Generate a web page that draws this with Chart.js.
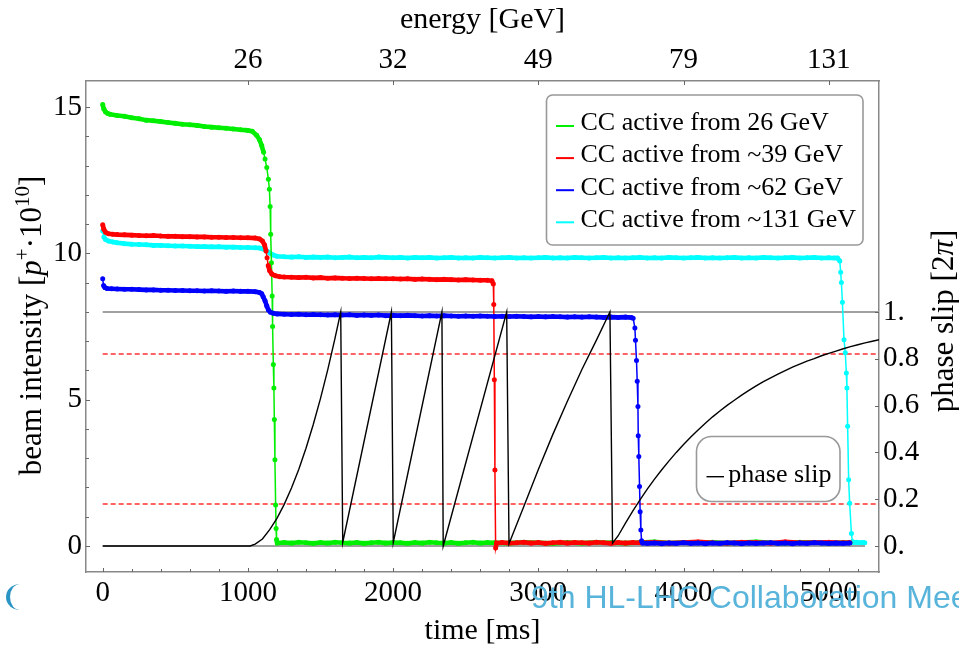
<!DOCTYPE html>
<html>
<head>
<meta charset="utf-8">
<script src="https://cdn.jsdelivr.net/npm/chart.js@4"></script>
<style>
  body { margin: 0; background: #fff; overflow: hidden; }
  #wrap { position: relative; width: 959px; height: 646px; overflow: hidden; }
  #banner { position: absolute; left: 531px; top: 581px; font: 32px "Liberation Sans", Arial, sans-serif; line-height: 1; color: #58b4da; white-space: nowrap; }
  #logo { position: absolute; left: 6px; top: 584px; width: 24px; height: 26px; border-left: 4px solid #2a95c5; border-radius: 50%; }
</style>
</head>
<body>
<div id="wrap">
  <canvas id="myChart" width="959" height="646"></canvas>
  <div id="logo"></div>
  <div id="banner">9th HL-LHC Collaboration Meeting</div>
</div>
<script>
// axis ticks
const timeTicks = [0, 1000, 2000, 3000, 4000, 5000];
const timeMinorTicks = [200, 400, 600, 800, 1200, 1400, 1600, 1800, 2200, 2400, 2600, 2800, 3200, 3400, 3600, 3800, 4200, 4400, 4600, 4800, 5200];
const energyTicks = [1000, 2000, 3000, 4000, 5000];
const energyLabels = ["26", "32", "49", "79", "131"];
const beamTicks = [0, 5, 10, 15];
const beamMinorTicks = [1, 2, 3, 4, 6, 7, 8, 9, 11, 12, 13, 14];
const phaseTicks = [0, 0.2, 0.4, 0.6, 0.8, 1];
const phaseLabels = ["0.", "0.2", "0.4", "0.6", "0.8", "1."];

const seriesLabels = ["CC active from 26 GeV", "CC active from ~39 GeV", "CC active from ~62 GeV", "CC active from ~131 GeV"];

// beam intensity [time ms, 1e10 p]
const green26 = [[0,15.08],[8,14.93],[20,14.83],[35,14.78],[50,14.75],[100,14.71],[150,14.68],[200,14.63],[250,14.6],[300,14.55],[350,14.53],[400,14.5],[450,14.47],[500,14.44],[550,14.41],[600,14.39],[650,14.37],[700,14.33],[750,14.31],[800,14.29],[850,14.27],[900,14.25],[950,14.22],[1000,14.2],[1030,14.17],[1060,14.03],[1080,13.88],[1095,13.68],[1108,13.45],[1118,13.22],[1130,12.93],[1141,12.53],[1148,12.19],[1153,11.6],[1157,10.65],[1162,9.68],[1167,8.54],[1170,7.5],[1175,6.2],[1179,5.4],[1182,4.32],[1186,2.95],[1191,1.4],[1194,0.6],[1197,0.22],[1202,0.1],
  [1250,0.12],[1300,0.1],[1350,0.13],[1400,0.11],[1450,0.09],[1500,0.12],[1550,0.1],[1600,0.13],[1650,0.11],[1700,0.1],[1750,0.12],[1800,0.09],[1850,0.11],[1900,0.13],[1950,0.1],[2000,0.12],[2050,0.11],[2100,0.09],[2150,0.12],[2200,0.1],[2250,0.13],[2300,0.11],[2350,0.1],[2400,0.12],[2450,0.09],[2500,0.11],[2550,0.13],[2600,0.1],[2650,0.12],[2700,0.11],
  [2800,0.1],[2900,0.13],[3000,0.11],[3100,0.09],[3200,0.12],[3300,0.1],[3400,0.13],[3500,0.11],[3600,0.1],[3700,0.12],[3800,0.14],[3900,0.1],[4000,0.12],[4100,0.11],[4200,0.13],[4300,0.1],[4400,0.12],[4500,0.14],[4600,0.11],[4700,0.1],[4800,0.13],[4900,0.12],[5000,0.1],[5100,0.12],[5145,0.11]];

const red39 = [[0,10.98],[8,10.82],[20,10.72],[40,10.67],[70,10.65],[100,10.64],[150,10.63],[200,10.62],[250,10.61],[300,10.6],[350,10.61],[400,10.59],[450,10.58],[500,10.58],[550,10.57],[600,10.57],[650,10.56],[700,10.56],[750,10.55],[800,10.55],[850,10.54],[900,10.54],[950,10.53],[1000,10.53],[1050,10.52],[1080,10.49],[1100,10.42],[1115,10.28],[1125,10.08],[1132,9.85],[1140,9.58],[1150,9.4],[1165,9.29],[1190,9.23],[1220,9.2],
  [1250,9.19],[1300,9.18],[1350,9.17],[1400,9.18],[1450,9.16],[1500,9.17],[1550,9.15],[1600,9.16],[1650,9.15],[1700,9.14],[1750,9.15],[1800,9.14],[1850,9.13],[1900,9.14],[1950,9.13],[2000,9.13],[2050,9.12],[2100,9.13],[2150,9.11],[2200,9.12],[2250,9.11],[2300,9.1],[2350,9.11],[2400,9.1],[2450,9.09],[2500,9.1],[2550,9.09],[2600,9.08],[2650,9.08],[2680,9.06],
  [2690,8.95],[2693,8.25],[2697,5.68],[2701,2.6],[2706,-0.07],[2713,0.1],
  [2750,0.12],[2800,0.1],[2850,0.11],[2900,0.13],[2950,0.1],[3000,0.12],[3050,0.09],[3100,0.11],[3150,0.13],[3200,0.1],[3250,0.12],[3300,0.11],[3350,0.1],[3400,0.13],[3450,0.11],[3500,0.09],[3550,0.12],[3600,0.1],[3650,0.12],[3700,0.11],
  [3800,0.13],[3900,0.1],[4000,0.12],[4100,0.14],[4200,0.11],[4300,0.1],[4400,0.13],[4500,0.12],[4600,0.1],[4700,0.14],[4800,0.11],[4900,0.12],[5000,0.13],[5100,0.11],[5145,0.12]];

const blue62 = [[0,9.13],[6,8.9],[15,8.83],[30,8.8],[60,8.79],[100,8.78],[150,8.77],[200,8.77],[250,8.76],[300,8.75],[350,8.75],[400,8.74],[450,8.74],[500,8.73],[550,8.73],[600,8.72],[650,8.72],[700,8.71],[750,8.72],[800,8.71],[850,8.7],[900,8.71],[950,8.7],[1000,8.7],[1050,8.69],[1080,8.66],[1095,8.62],[1105,8.52],[1118,8.38],[1130,8.2],[1141,8.06],[1155,7.99],[1175,7.95],[1200,7.93],
  [1250,7.92],[1300,7.91],[1350,7.92],[1400,7.9],[1450,7.91],[1500,7.9],[1550,7.89],[1600,7.9],[1650,7.89],[1700,7.9],[1750,7.88],[1800,7.89],[1850,7.88],[1900,7.89],[1950,7.87],[2000,7.88],[2050,7.87],[2100,7.88],[2150,7.87],[2200,7.86],[2250,7.87],[2300,7.86],[2350,7.87],[2400,7.86],[2450,7.85],[2500,7.86],[2550,7.85],[2600,7.86],[2650,7.85],[2700,7.84],[2750,7.85],[2800,7.84],[2850,7.85],[2900,7.84],[2950,7.83],[3000,7.84],[3050,7.83],[3100,7.84],[3150,7.83],[3200,7.82],[3250,7.83],[3300,7.82],[3350,7.83],[3400,7.82],[3450,7.81],[3500,7.82],[3550,7.81],[3600,7.82],[3640,7.81],
  [3653,7.78],[3665,7.45],[3669,7.03],[3676,6.34],[3681,5.63],[3686,4.77],[3688,3.77],[3692,3.06],[3697,2.03],[3701,1.17],[3706,0.55],[3711,0.18],[3718,0.1],
  [3750,0.09],[3800,0.1],[3850,0.08],[3900,0.1],[3950,0.09],[4000,0.11],[4050,0.09],[4100,0.1],[4150,0.08],[4200,0.1],[4250,0.09],[4300,0.11],[4350,0.1],[4400,0.08],[4450,0.1],[4500,0.09],[4550,0.1],[4600,0.11],[4650,0.09],[4700,0.1],[4750,0.08],[4800,0.1],[4850,0.09],[4900,0.11],[4950,0.1],[5000,0.09],[5050,0.1],[5100,0.09],[5145,0.1]];

const cyan131 = [[0,10.76],[8,10.56],[20,10.47],[40,10.42],[70,10.39],[100,10.36],[150,10.33],[200,10.31],[250,10.3],[300,10.29],[350,10.27],[400,10.27],[450,10.26],[500,10.25],[550,10.25],[600,10.24],[650,10.23],[700,10.23],[750,10.22],[800,10.22],[850,10.21],[900,10.21],[950,10.2],[1000,10.2],[1050,10.19],[1080,10.18],[1110,10.14],[1135,10.06],[1153,10.0],[1175,9.94],[1200,9.9],
  [1250,9.88],[1300,9.87],[1350,9.88],[1400,9.86],[1450,9.87],[1500,9.86],[1550,9.87],[1600,9.85],[1650,9.86],[1700,9.87],[1750,9.85],[1800,9.86],[1850,9.85],[1900,9.87],[1950,9.86],[2000,9.85],[2050,9.86],[2100,9.84],[2150,9.86],[2200,9.85],[2250,9.86],[2300,9.84],[2350,9.85],[2400,9.86],[2450,9.84],[2500,9.85],[2550,9.84],[2600,9.86],[2650,9.85],[2700,9.84],[2750,9.85],[2800,9.86],[2850,9.84],[2900,9.85],[2950,9.84],[3000,9.85],[3050,9.86],[3100,9.84],[3150,9.85],[3200,9.84],[3250,9.86],[3300,9.85],[3350,9.84],[3400,9.85],[3450,9.86],[3500,9.84],[3550,9.85],[3600,9.84],[3650,9.85],[3700,9.86],[3750,9.84],[3800,9.85],[3850,9.84],[3900,9.86],[3950,9.85],[4000,9.84],[4050,9.85],[4100,9.86],[4150,9.84],[4200,9.85],[4250,9.84],[4300,9.85],[4350,9.86],[4400,9.84],[4450,9.85],[4500,9.84],[4550,9.86],[4600,9.85],[4650,9.84],[4700,9.85],[4750,9.86],[4800,9.84],[4850,9.85],[4900,9.86],[4950,9.84],[5000,9.85],[5040,9.84],
  [5060,9.84],[5076,9.74],[5082,9.35],[5087,9.0],[5094,8.33],[5105,7.05],[5114,6.6],[5121,5.91],[5125,5.4],[5130,4.09],[5137,2.26],[5144,1.46],[5156,0.43],[5163,0.15],
  [5170,0.12],[5190,0.13],[5210,0.11],[5230,0.12],[5248,0.11]];

// phase slip [2pi]
const phaseSlip = [[0,0],[1015,0],[1050,0.008],[1100,0.03],[1150,0.07],[1200,0.118],[1250,0.178],[1300,0.248],[1350,0.327],[1400,0.418],[1450,0.519],[1500,0.631],[1550,0.754],[1600,0.888],[1639,1.0],
  [1653,0.015],[1988,1.0],[2001,0.015],[2336,1.0],[2345,0.0],[2782,1.0],
  [2798,0.01],[2900,0.169],[3000,0.327],[3100,0.477],[3200,0.619],[3300,0.754],[3400,0.88],[3493,1.0],
  [3511,0.012],[3550,0.044],[3600,0.098],[3650,0.149],[3700,0.197],[3750,0.243],[3800,0.286],[3850,0.326],[3900,0.364],[3950,0.4],[4000,0.434],[4050,0.466],[4100,0.496],[4150,0.525],[4200,0.552],[4250,0.577],[4300,0.601],[4350,0.623],[4400,0.645],[4450,0.665],[4500,0.684],[4550,0.702],[4600,0.718],[4650,0.734],[4700,0.749],[4750,0.764],[4800,0.777],[4850,0.79],[4900,0.801],[4950,0.813],[5000,0.823],[5050,0.833],[5100,0.843],[5150,0.852],[5200,0.86],[5250,0.868],[5300,0.875],[5350,0.882],[5400,0.889]];

const slipLimits = [0.82, 0.18];
const grayZero = [[0,0],[5250,0]];
const grayOne = [[0,1],[5400,1]];

const serif = "'Liberation Serif', 'Times New Roman', serif";
const xy = (pts) => pts.map((p) => ({ x: p[0], y: p[1] }));

// thin line with dots, as the measured samples
function beamSet(label, pts, color, order) {
  return {
    label: label,
    data: xy(pts),
    borderColor: color,
    backgroundColor: color,
    pointBackgroundColor: color,
    pointBorderWidth: 0,
    pointRadius: 2.5,
    borderWidth: 1.5,
    tension: 0,
    xAxisID: "x",
    yAxisID: "y",
    order: order,
    beam: true,
  };
}

// thick band under the flat stretches (scatter of the samples)
function bandSet(pts, color, order) {
  return {
    label: "band",
    data: xy(pts),
    borderColor: color,
    borderWidth: 4.6,
    pointRadius: 0,
    tension: 0,
    xAxisID: "x",
    yAxisID: "y",
    order: order,
    segment: {
      borderColor: (c) => (Math.abs(c.p1.y - c.p0.y) > 2 * Math.abs(c.p1.x - c.p0.x) + 3 ? "rgba(0,0,0,0)" : color),
    },
  };
}

const datasets = [
  beamSet(seriesLabels[0], green26, "#00ee00", 3),
  beamSet(seriesLabels[1], red39, "#ff0000", 2),
  beamSet(seriesLabels[2], blue62, "#0000ff", 1),
  beamSet(seriesLabels[3], cyan131, "#00ffff", 4),
  bandSet(green26, "#00ee00", 3),
  bandSet(red39, "#ff0000", 2),
  bandSet(blue62, "#0000ff", 1),
  bandSet(cyan131, "#00ffff", 4),
  {
    label: "phase slip",
    data: xy(phaseSlip),
    borderColor: "#000",
    borderWidth: 1.4,
    pointRadius: 0,
    tension: 0,
    xAxisID: "x",
    yAxisID: "yPhase",
    order: 0,
    clip: 0,
  },
  {
    label: "zero",
    data: xy(grayZero),
    borderColor: "#a0a0a0",
    borderWidth: 2,
    pointRadius: 0,
    xAxisID: "x",
    yAxisID: "yPhase",
    order: 8,
    clip: 0,
  },
  {
    label: "one",
    data: xy(grayOne),
    borderColor: "#a0a0a0",
    borderWidth: 2,
    pointRadius: 0,
    xAxisID: "x",
    yAxisID: "yPhase",
    order: 8,
    clip: 0,
  },
];

slipLimits.forEach((lim) => {
  datasets.push({
    label: "limit",
    data: [{ x: 0, y: lim }, { x: 5400, y: lim }],
    borderColor: "#ff3030",
    borderWidth: 1.5,
    borderDash: [5, 3],
    pointRadius: 0,
    xAxisID: "x",
    yAxisID: "yPhase",
    order: 6,
    clip: 0,
  });
});

function fixTicks(values) {
  return (axis) => {
    axis.ticks = values.map((v) => ({ value: v }));
  };
}

function drawRoundBox(ctx, x, y, w, h, r) {
  ctx.beginPath();
  ctx.moveTo(x + r, y);
  ctx.lineTo(x + w - r, y);
  ctx.arcTo(x + w, y, x + w, y + r, r);
  ctx.lineTo(x + w, y + h - r);
  ctx.arcTo(x + w, y + h, x + w - r, y + h, r);
  ctx.lineTo(x + r, y + h);
  ctx.arcTo(x, y + h, x, y + h - r, r);
  ctx.lineTo(x, y + r);
  ctx.arcTo(x, y, x + r, y, r);
  ctx.closePath();
}

function richText(ctx, parts, x, y) {
  ctx.save();
  ctx.translate(x, y);
  ctx.rotate(-Math.PI / 2);
  ctx.textBaseline = "alphabetic";
  ctx.textAlign = "left";
  ctx.fillStyle = "#000";
  let total = 0;
  parts.forEach((p) => {
    ctx.font = p.f;
    total += ctx.measureText(p.t).width;
  });
  let pos = -total / 2;
  parts.forEach((p) => {
    ctx.font = p.f;
    ctx.fillText(p.t, pos, p.dy || 0);
    pos += ctx.measureText(p.t).width;
  });
  ctx.restore();
}

const decor = {
  id: "decor",
  afterDraw(chart) {
    const { ctx, chartArea, scales } = chart;
    const a = chartArea;
    ctx.save();
    ctx.strokeStyle = "#666";
    ctx.lineWidth = 1;
    // inward tick marks
    const tick = (x1, y1, x2, y2) => {
      ctx.beginPath();
      ctx.moveTo(x1, y1);
      ctx.lineTo(x2, y2);
      ctx.stroke();
    };
    timeTicks.forEach((v) => { const p = Math.round(scales.x.getPixelForValue(v)) + 0.5; tick(p, a.bottom, p, a.bottom - 4); });
    timeMinorTicks.forEach((v) => { const p = Math.round(scales.x.getPixelForValue(v)) + 0.5; tick(p, a.bottom, p, a.bottom - 3); });
    energyTicks.forEach((v) => { const p = Math.round(scales.xTop.getPixelForValue(v)) + 0.5; tick(p, a.top, p, a.top + 4); });
    beamTicks.forEach((v) => { const p = Math.round(scales.y.getPixelForValue(v)) + 0.5; tick(a.left, p, a.left + 4, p); });
    beamMinorTicks.forEach((v) => { const p = Math.round(scales.y.getPixelForValue(v)) + 0.5; tick(a.left, p, a.left + 3, p); });
    phaseTicks.forEach((v) => { const p = Math.round(scales.yPhase.getPixelForValue(v)) + 0.5; tick(a.right, p, a.right - 4, p); });

    // legend of the four beams
    drawRoundBox(ctx, 546.5, 95, 316.5, 150, 6);
    ctx.fillStyle = "rgba(255,255,255,0.85)";
    ctx.fill();
    ctx.strokeStyle = "#999";
    ctx.lineWidth = 1.6;
    ctx.stroke();
    ctx.font = "26px " + serif;
    ctx.textBaseline = "alphabetic";
    ctx.textAlign = "left";
    chart.data.datasets.filter((d) => d.beam).forEach((d, i) => {
      const base = 130.3 + i * 32.1;
      ctx.strokeStyle = d.borderColor;
      ctx.lineWidth = 2;
      tick(556, base - 4.3, 574, base - 4.3);
      ctx.fillStyle = "#000";
      ctx.fillText(d.label, 580.5, base);
    });

    // legend of the phase slip
    drawRoundBox(ctx, 696.5, 436.5, 143.5, 65, 15);
    ctx.fillStyle = "rgba(255,255,255,0.85)";
    ctx.fill();
    ctx.strokeStyle = "#999";
    ctx.lineWidth = 1.6;
    ctx.stroke();
    ctx.strokeStyle = "#000";
    ctx.lineWidth = 1.4;
    tick(706.5, 476.7, 724, 476.7);
    ctx.fillStyle = "#000";
    ctx.fillText("phase slip", 728.3, 481.7);
    ctx.restore();

    // rotated axis titles
    const normal = "31px " + serif;
    const small = "21px " + serif;
    richText(ctx, [
      { t: "beam intensity [", f: normal },
      { t: "p", f: "italic " + normal },
      { t: "+", f: small, dy: -12 },
      { t: "\u00b710", f: normal },
      { t: "10", f: small, dy: -12 },
      { t: "]", f: normal },
    ], 41, 325.5);
    richText(ctx, [
      { t: "phase slip [2", f: normal },
      { t: "\u03c0", f: "italic " + normal },
      { t: "]", f: normal },
    ], 953, 321);
  },
};

const ctx = document.getElementById("myChart");

new Chart(ctx, {
  type: "line",
  data: { datasets: datasets },
  plugins: [decor],
  options: {
    responsive: false,
    animation: false,
    layout: { padding: 0 },
    plugins: { legend: { display: false }, tooltip: { enabled: false } },
    scales: {
      x: {
        type: "linear",
        position: "bottom",
        min: -115,
        max: 5346,
        afterBuildTicks: fixTicks(timeTicks),
        afterFit: (axis) => { axis.height = 74; },
        grid: { display: false, drawTicks: false },
        border: { display: true, color: "#888", width: 1.5 },
        ticks: { color: "#000", padding: 4, maxRotation: 0, font: { family: serif, size: 29 }, callback: (v) => String(v) },
        title: { display: true, text: "time [ms]", color: "#000", padding: { top: 0, bottom: 0 }, font: { family: serif, size: 30, lineHeight: 1 } },
      },
      xTop: {
        type: "linear",
        position: "top",
        min: -115,
        max: 5346,
        afterBuildTicks: fixTicks(energyTicks),
        afterFit: (axis) => { axis.height = 81; },
        grid: { display: false, drawTicks: false },
        border: { display: true, color: "#888", width: 1.5 },
        ticks: { color: "#000", padding: 3, maxRotation: 0, font: { family: serif, size: 29 }, callback: (v, i) => energyLabels[i] },
        title: { display: true, text: "energy [GeV]", color: "#000", padding: { top: 5, bottom: 0 }, font: { family: serif, size: 30, lineHeight: 1 } },
      },
      y: {
        type: "linear",
        position: "left",
        min: -0.888,
        max: 15.887,
        afterBuildTicks: fixTicks(beamTicks),
        afterFit: (axis) => { axis.width = 86; },
        grid: { display: false, drawTicks: false },
        border: { display: true, color: "#888", width: 1.5 },
        ticks: { color: "#000", padding: 4, font: { family: serif, size: 29 } },
      },
      yPhase: {
        type: "linear",
        position: "right",
        min: -0.111,
        max: 1.987,
        afterBuildTicks: fixTicks(phaseTicks),
        afterFit: (axis) => { axis.width = 80; },
        grid: { display: false, drawTicks: false },
        border: { display: true, color: "#888", width: 1.5 },
        ticks: { color: "#000", padding: 4, font: { family: serif, size: 29 }, callback: (v, i) => phaseLabels[i] },
      },
    },
  },
});
</script>
</body>
</html>
